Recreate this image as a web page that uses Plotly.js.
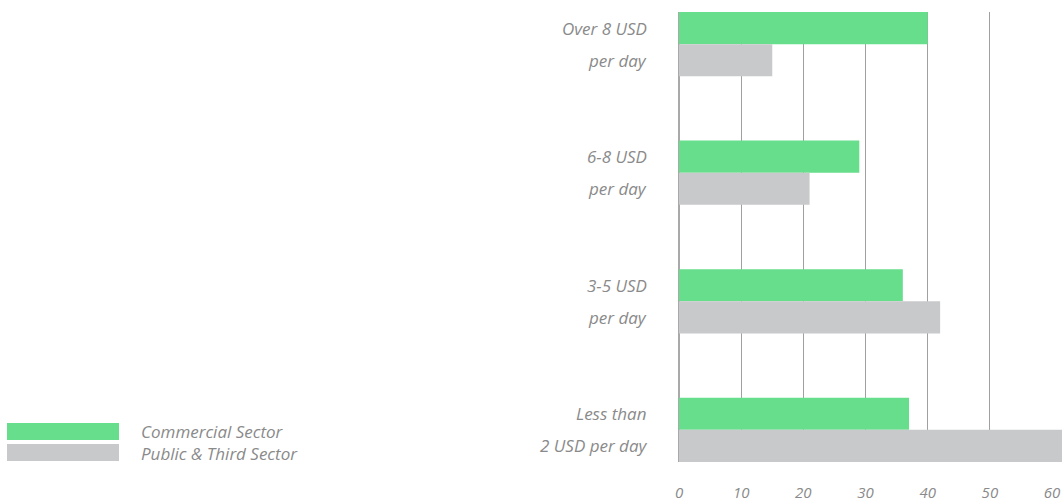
<!DOCTYPE html>
<html>
<head>
<meta charset="utf-8">
<script src="https://cdn.plot.ly/plotly-3.0.1.min.js"></script>
<style>html,body{margin:0;padding:0;background:#fff;}#chart{width:1062px;height:504px;}</style>
</head>
<body>
<div id="chart"></div>
<script>
// Data
const categories = ["Over 8 USD per day", "6-8 USD per day", "3-5 USD per day", "Less than 2 USD per day"];
const labelLine1 = ["Over 8 USD", "6-8 USD", "3-5 USD", "Less than"];
const labelLine2 = ["per day", "per day", "per day", "2 USD per day"];
const seriesNames = ["Commercial Sector", "Public & Third Sector"];
const commercial = [40, 29, 36, 37];
const publicThird = [15, 21, 42, 62];
const xTicks = [0, 10, 20, 30, 40, 50, 60];
const gridTicks = [10, 20, 30, 40, 50];

const colors = ["#67de8b", "#c8c9cb"];
const FONT = "Open Sans, Noto Sans, sans-serif";
const txtColor = "#8a8a8a";

const traces = [
  {type: "bar", orientation: "h", name: seriesNames[0], y: categories, x: commercial,
   marker: {color: colors[0]}, hoverinfo: "x+name", showlegend: false},
  {type: "bar", orientation: "h", name: seriesNames[1], y: categories, x: publicThird,
   marker: {color: colors[1]}, hoverinfo: "x+name", showlegend: false},
  // invisible trace to anchor the grid-only axis
  {type: "scatter", x: [], y: [], xaxis: "x2", yaxis: "y", showlegend: false, hoverinfo: "skip"}
];

const annotations = [];
categories.forEach((c, i) => {
  annotations.push({xref: "paper", x: 0, xanchor: "right", xshift: -30, yref: "y", y: c, yshift: 16,
    yanchor: "middle", text: labelLine1[i], showarrow: false,
    font: {family: FONT, size: 17, color: txtColor, style: "italic"}});
  annotations.push({xref: "paper", x: 0, xanchor: "right", xshift: -30, yref: "y", y: c, yshift: -16,
    yanchor: "middle", text: labelLine2[i], showarrow: false,
    font: {family: FONT, size: 17, color: txtColor, style: "italic"}});
});

// Custom legend
const legendY = [[39, 22], [18, 1]];
const legendTextShift = [31, 9];
const shapes = [];
seriesNames.forEach((n, i) => {
  shapes.push({type: "rect", xref: "paper", yref: "paper", xsizemode: "pixel", ysizemode: "pixel",
    xanchor: 0, yanchor: 0, x0: -672, x1: -560, y0: legendY[i][0], y1: legendY[i][1],
    fillcolor: colors[i], line: {width: 0}});
  annotations.push({xref: "paper", x: 0, xshift: -540, xanchor: "left", yref: "paper", y: 0,
    yshift: legendTextShift[i], yanchor: "middle", text: n, showarrow: false,
    font: {family: FONT, size: 17, color: txtColor, style: "italic"}});
});

const layout = {
  width: 1062, height: 504,
  margin: {l: 679, r: 0, t: 12, b: 42, pad: 0},
  paper_bgcolor: "#fff", plot_bgcolor: "#fff",
  barmode: "group", bargap: 0.5, bargroupgap: 0,
  showlegend: false,
  font: {family: FONT, color: txtColor},
  xaxis: {range: [0, 61.6], tickvals: xTicks, showgrid: false, zeroline: true,
    zerolinecolor: "#a9a9a9", zerolinewidth: 1.5, showline: false, ticks: "",
    ticklabelstandoff: 20,
    tickfont: {family: FONT, size: 15, color: txtColor, style: "italic"}, fixedrange: true},
  xaxis2: {overlaying: "x", range: [0, 61.6], tickvals: gridTicks, showgrid: true,
    gridcolor: "#a0a0a0", gridwidth: 1.2, showticklabels: false, zeroline: false, ticks: "", side: "bottom"},
  yaxis: {type: "category", categoryorder: "array", categoryarray: categories,
    range: [3.25, -0.25], showticklabels: false, showgrid: false, zeroline: false, ticks: "", fixedrange: true},
  annotations: annotations,
  shapes: shapes
};

Plotly.newPlot("chart", traces, layout, {displayModeBar: false, staticPlot: true});
</script>
</body>
</html>
